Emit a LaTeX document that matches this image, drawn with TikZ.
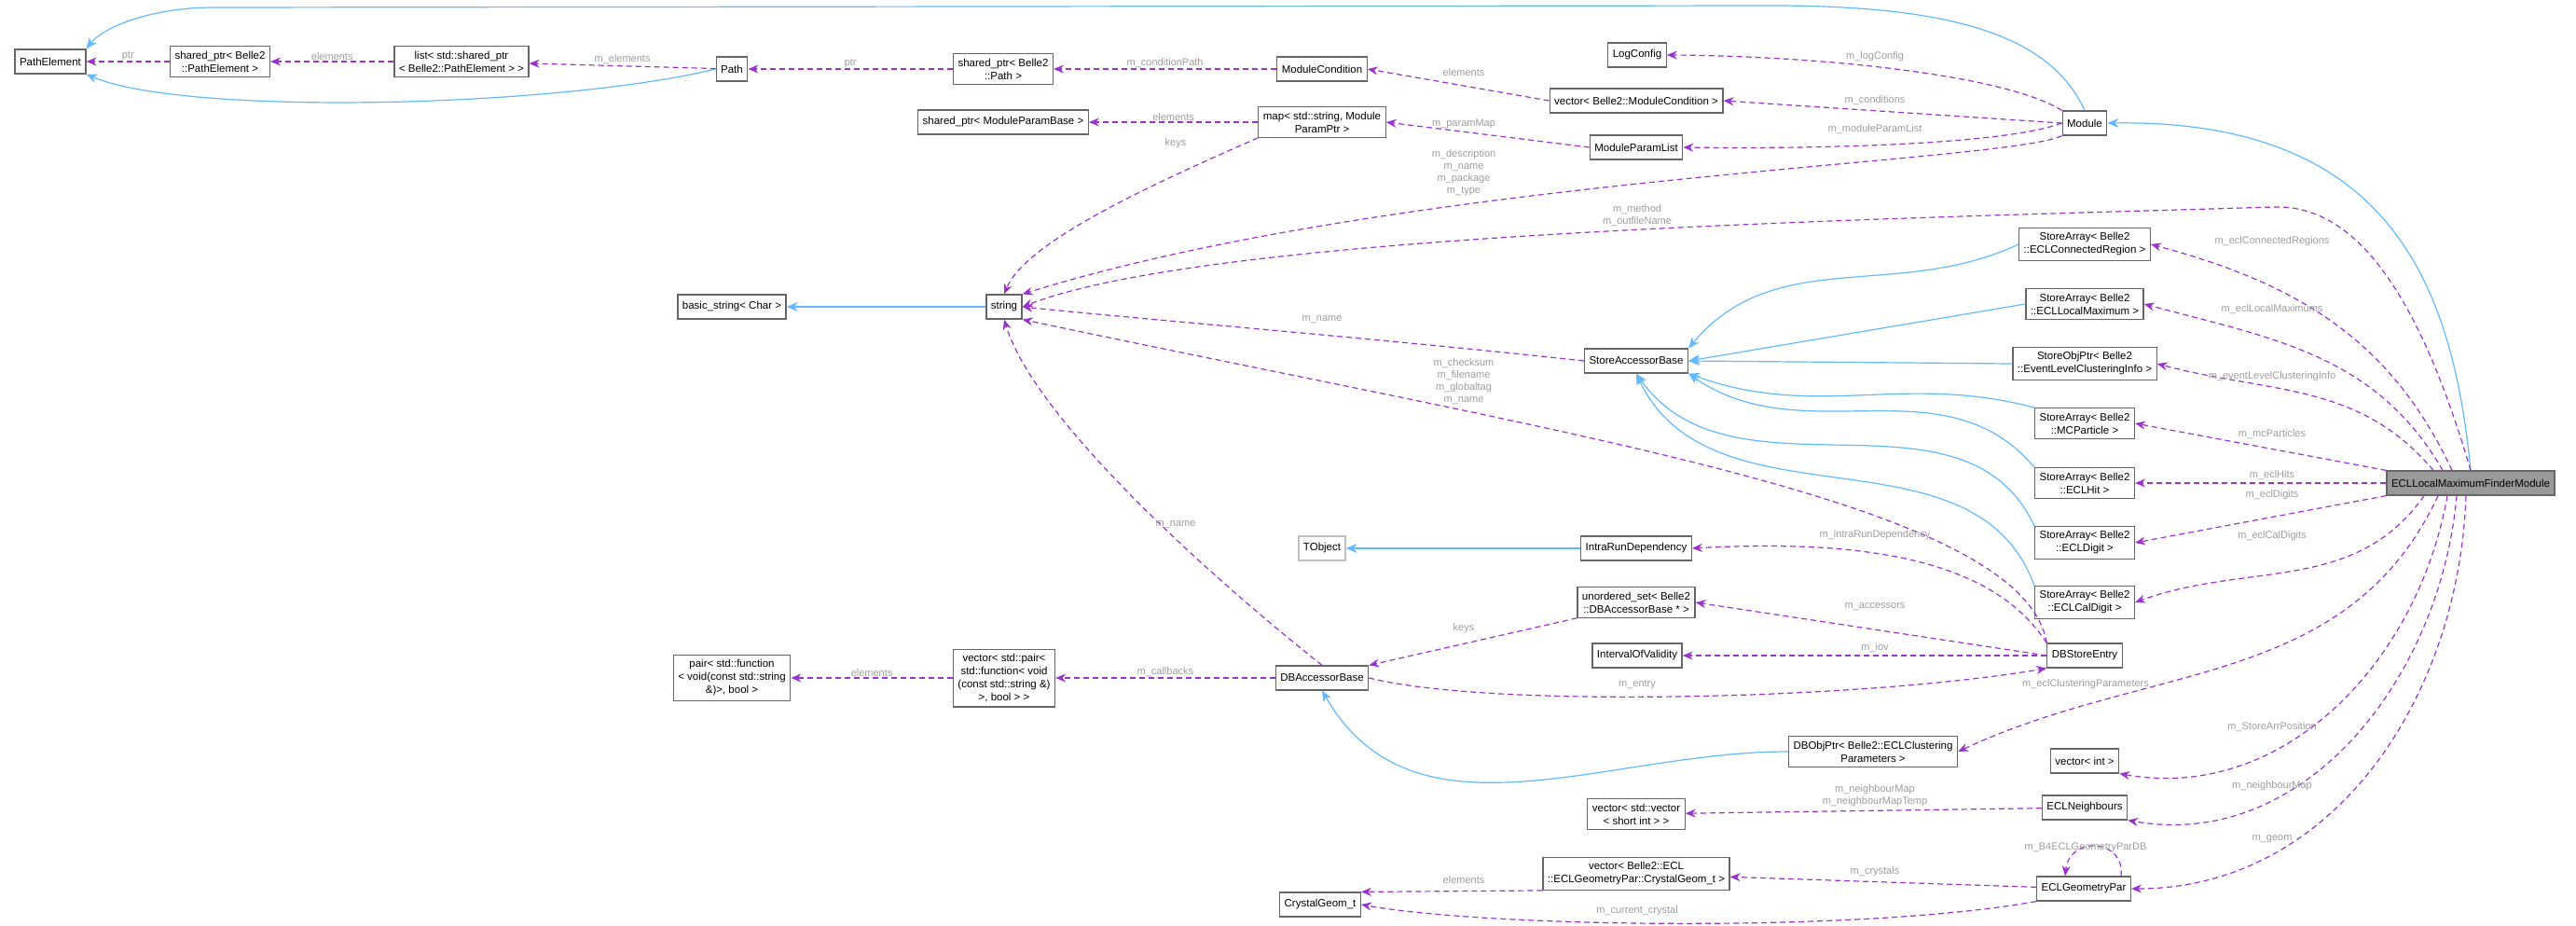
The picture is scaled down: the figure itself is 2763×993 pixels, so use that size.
\documentclass[tikz,border=0pt]{standalone}
\usepackage{fontspec}
\setmainfont{Liberation Sans}
\usetikzlibrary{arrows.meta}
\definecolor{pur}{HTML}{9A32CD}
\definecolor{blu}{HTML}{63B8FF}
\definecolor{lab}{HTML}{9C9C9C}
\begin{document}
\begin{tikzpicture}[x=1pt,y=-1pt,
 box/.style={draw=black!60,fill=white,line width=1.2pt,font=\fontsize{11.5}{14}\selectfont,align=center,inner sep=5pt,minimum height=26pt},
 uses/.style={draw=pur,line width=1.2pt,dash pattern=on 6pt off 4pt,-{Stealth[length=11pt,width=9pt]}},
 inh/.style={draw=blu,line width=1.2pt,-{Stealth[length=12pt,width=10pt]}},
 lb/.style={text=lab,font=\fontsize{11}{13}\selectfont,align=center,inner sep=1pt}]
\useasboundingbox (0,0) rectangle (2763,993);
% nodes
\node[box] (PE) at (54,66) {PathElement};
\node[box] (SPE) at (236,66) {shared\_ptr< Belle2\\::PathElement >};
\node[box] (LST) at (495,66) {list< std::shared\_ptr\\< Belle2::PathElement > >};
\node[box] (PTH) at (785,74) {Path};
\node[box] (SPP) at (1076,74) {shared\_ptr< Belle2\\::Path >};
\node[box] (MC) at (1418,74) {ModuleCondition};
\node[box] (SPM) at (1076,131) {shared\_ptr< ModuleParamBase >};
\node[box] (MAP) at (1418,131) {map< std::string, Module\\ParamPtr >};
\node[box] (LC) at (1756,59) {LogConfig};
\node[box] (VMC) at (1755,108) {vector< Belle2::ModuleCondition >};
\node[box] (MPL) at (1755,158) {ModuleParamList};
\node[box] (MOD) at (2236,132) {Module};
\node[box] (BS) at (785,329) {basic\_string< Char >};
\node[box] (STR) at (1077,329) {string};
\node[box] (SAB) at (1755,387) {StoreAccessorBase};
\node[box] (SA1) at (2236,262) {StoreArray< Belle2\\::ECLConnectedRegion >};
\node[box] (SA2) at (2236,326) {StoreArray< Belle2\\::ECLLocalMaximum >};
\node[box] (SA3) at (2236,390) {StoreObjPtr< Belle2\\::EventLevelClusteringInfo >};
\node[box] (SA4) at (2236,454) {StoreArray< Belle2\\::MCParticle >};
\node[box] (SAH) at (2236,518) {StoreArray< Belle2\\::ECLHit >};
\node[box] (SAD) at (2236,582) {StoreArray< Belle2\\::ECLDigit >};
\node[box] (SAC) at (2236,646) {StoreArray< Belle2\\::ECLCalDigit >};
\node[box,fill=black!40] (ECL) at (2650,518) {ECLLocalMaximumFinderModule};
\node[box,draw=black!25] (TO) at (1418,588) {TObject};
\node[box] (IRD) at (1755,588) {IntraRunDependency};
\node[box] (US) at (1755,646) {unordered\_set< Belle2\\::DBAccessorBase * >};
\node[box] (IOV) at (1756,703) {IntervalOfValidity};
\node[box] (DBS) at (2236,703) {DBStoreEntry};
\node[box] (DBA) at (1418,727) {DBAccessorBase};
\node[box] (VP) at (1077,727) {vector< std::pair<\\std::function< void\\(const std::string \&)\\>, bool > >};
\node[box] (PR) at (785,727) {pair< std::function\\< void(const std::string\\\&)>, bool >};
\node[box] (DBO) at (2009,806) {DBObjPtr< Belle2::ECLClustering\\Parameters >};
\node[box] (VI) at (2236,816) {vector< int >};
\node[box] (VV) at (1755,873) {vector< std::vector\\< short int > >};
\node[box] (NB) at (2236,866) {ECLNeighbours};
\node[box] (VCG) at (1755,937) {vector< Belle2::ECL\\::ECLGeometryPar::CrystalGeom\_t >};
\node[box] (GP) at (2235,953) {ECLGeometryPar};
\node[box] (CG) at (1416,970) {CrystalGeom\_t};
% inheritance
\draw[inh] (MOD.north) .. controls (2200,40) and (2100,6) .. (1900,6) -- (230,8) .. controls (160,8) and (110,30) .. (PE.north east);
\draw[inh] (PTH.west) .. controls (600,115) and (200,125) .. (PE.south east);
\draw[inh] (ECL.north) .. controls (2630,300) and (2560,128) .. (MOD.east);
\draw[inh] (STR) -- (BS);
\draw[inh] (SA1.west) to[out=205,in=50] (SAB.north east);
\draw[inh] (SA2.west) -- (SAB.east);
\draw[inh] (SA3.west) -- (SAB.east);
\draw[inh] (SA4.north west) to[out=165,in=-20] (SAB.south east);
\draw[inh] (SAH.north west) to[out=130,in=-35] (SAB.south east);
\draw[inh] (SAD.north west) to[out=115,in=-55] (SAB.south);
\draw[inh] (SAC.north west) to[out=110,in=-65] (SAB.south);
\draw[inh] (IRD) -- (TO);
\draw[inh] (DBO.west) to[out=180,in=-60] (DBA.south);
% usage
\draw[uses] (SPE) -- node[lb,above]{ptr} (PE);
\draw[uses] (LST) -- node[lb,above]{elements} (SPE);
\draw[uses] (PTH) -- node[lb,above]{m\_elements} (LST);
\draw[uses] (SPP) -- node[lb,above]{ptr} (PTH);
\draw[uses] (MC) -- node[lb,above]{m\_conditionPath} (SPP);
\draw[uses] (VMC.west) -- (MC.east);
\node[lb] at (1570,78) {elements};
\draw[uses] (MOD.north west) .. controls (2150,80) and (1950,60) .. (LC.east);
\node[lb] at (2011,61) {m\_logConfig};
\draw[uses] (MOD.west) -- (VMC.east);
\node[lb] at (2011,108) {m\_conditions};
\draw[uses] (MOD.west) .. controls (2150,155) and (1950,160) .. (MPL.east);
\node[lb] at (2011,139) {m\_moduleParamList};
\draw[uses] (MPL.west) -- (MAP.east);
\node[lb] at (1570,133) {m\_paramMap};
\draw[uses] (MAP) -- node[lb,above]{elements} (SPM);
\draw[uses] (MAP.south west) .. controls (1230,200) and (1100,260) .. (STR.north);
\node[lb] at (1261,154) {keys};
\draw[uses] (MOD.south west) .. controls (2150,175) and (1500,190) .. (STR.north east);
\node[lb] at (1570,185) {m\_description\\m\_name\\m\_package\\m\_type};
\draw[uses] (ECL.north) .. controls (2590,300) and (2520,220) .. (2440,222) .. controls (2000,235) and (1300,250) .. (STR.east);
\node[lb] at (1756,231) {m\_method\\m\_outfileName};
\draw[uses] (SAB.west) .. controls (1500,365) and (1200,340) .. (STR.east);
\node[lb] at (1418,343) {m\_name};
\draw[uses] (DBS.north west) .. controls (2170,540) and (1700,470) .. (STR.south east);
\node[lb] at (1570,409) {m\_checksum\\m\_filename\\m\_globaltag\\m\_name};
\draw[uses] (DBA.north) .. controls (1300,620) and (1110,450) .. (STR.south);
\node[lb] at (1261,563) {m\_name};
\draw[uses] (DBA) -- node[lb,above]{m\_callbacks} (VP);
\draw[uses] (VP) -- node[lb,above]{elements} (PR);
\draw[uses] (US.south west) -- (DBA.north east);
\node[lb] at (1570,674) {keys};
\draw[uses] (DBS.north west) .. controls (2150,620) and (2050,575) .. (IRD.east);
\node[lb] at (2011,574) {m\_intraRunDependency};
\draw[uses] (DBS.west) -- (US.east);
\node[lb] at (2011,651) {m\_accessors};
\draw[uses] (DBS) -- (IOV);
\node[lb] at (2011,695) {m\_iov};
\draw[uses] (DBA.east) .. controls (1600,760) and (2000,750) .. (DBS.south west);
\node[lb] at (1756,734) {m\_entry};
% from ECL module
\draw[uses] ([xshift=-20pt]ECL.north) to[out=115,in=-15] (SA1.east);
\node[lb] at (2437,259) {m\_eclConnectedRegions};
\draw[uses] ([xshift=-30pt]ECL.north) to[out=120,in=-15] (SA2.east);
\node[lb] at (2437,332) {m\_eclLocalMaximums};
\draw[uses] ([xshift=-40pt]ECL.north) to[out=130,in=-15] (SA3.east);
\node[lb] at (2437,404) {m\_eventLevelClusteringInfo};
\draw[uses] (ECL.north west) -- (SA4.east);
\node[lb] at (2437,466) {m\_mcParticles};
\draw[uses] (ECL.west) -- (SAH.east);
\node[lb] at (2437,510) {m\_eclHits};
\draw[uses] (ECL.south west) -- (SAD.east);
\node[lb] at (2437,531) {m\_eclDigits};
\draw[uses] ([xshift=-50pt]ECL.south) to[out=-125,in=20] (SAC.east);
\node[lb] at (2437,575) {m\_eclCalDigits};
\draw[uses] ([xshift=-35pt]ECL.south) to[out=-115,in=25] (DBO.east);
\node[lb] at (2237,734) {m\_eclClusteringParameters};
\draw[uses] ([xshift=-25pt]ECL.south) to[out=-100,in=-10] (VI.south east);
\node[lb] at (2437,780) {m\_StoreArrPosition};
\draw[uses] ([xshift=-15pt]ECL.south) to[out=-95,in=-10] (NB.south east);
\node[lb] at (2437,843) {m\_neighbourMap};
\draw[uses] ([xshift=-5pt]ECL.south) to[out=-92,in=0] (GP.east);
\node[lb] at (2437,900) {m\_geom};
\draw[uses] (NB) -- (VV);
\node[lb] at (2011,853) {m\_neighbourMap\\m\_neighbourMapTemp};
\draw[uses] (GP) -- (VCG);
\node[lb] at (2011,935) {m\_crystals};
\draw[uses] ([xshift=40pt]GP.north) .. controls (2280,900) and (2220,895) .. ([xshift=-20pt]GP.north);
\node[lb] at (2237,909) {m\_B4ECLGeometryParDB};
\draw[uses] (VCG.south west) -- (CG.north east);
\node[lb] at (1570,944) {elements};
\draw[uses] (GP.south west) .. controls (2000,1000) and (1600,995) .. (CG.east);
\node[lb] at (1756,977) {m\_current\_crystal};
\end{tikzpicture}
\end{document}
